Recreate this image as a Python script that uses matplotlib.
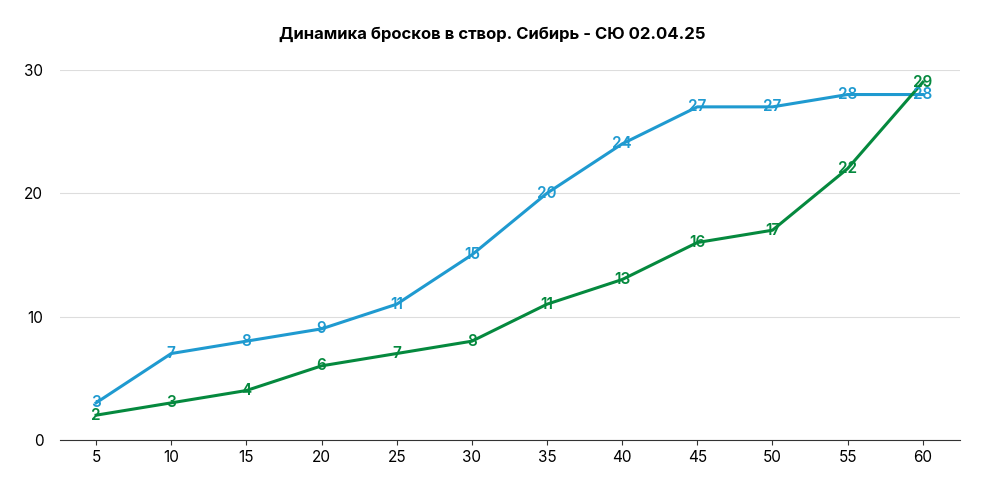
import matplotlib
matplotlib.use("Agg")
import matplotlib.pyplot as plt

minutes = [5, 10, 15, 20, 25, 30, 35, 40, 45, 50, 55, 60]
sibir = [3, 7, 8, 9, 11, 15, 20, 24, 27, 27, 28, 28]
syu = [2, 3, 4, 6, 7, 8, 11, 13, 16, 17, 22, 29]
title = "Динамика бросков в створ. Сибирь - СЮ 02.04.25"

fig = plt.figure(figsize=(9.84, 4.92), dpi=100)
ax = fig.add_axes([0.061, 0.106, 0.915, 0.752])
blue = "#1f9ad0"
green = "#05893e"
ax.plot(minutes, sibir, color=blue, lw=2.2)
ax.plot(minutes, syu, color=green, lw=2.2)
for x, y in zip(minutes, sibir):
    ax.text(x, y, str(y), color=blue, ha="center", va="center", fontsize=11, fontweight="semibold", family="Inter")
for x, y in zip(minutes, syu):
    ax.text(x, y, str(y), color=green, ha="center", va="center", fontsize=11, fontweight="semibold", family="Inter")
ax.set_xlim(2.6, 62.5)
ax.set_ylim(0, 30)
ax.set_xticks(minutes)
ax.set_yticks([0, 10, 20, 30])
ax.grid(axis="y", color="#dddddd", lw=0.8)
ax.set_axisbelow(True)
for s in ["top", "right", "left"]:
    ax.spines[s].set_visible(False)
ax.spines["bottom"].set_color("#333333")
ax.tick_params(axis="y", length=0, labelsize=11, pad=12)
ax.tick_params(axis="x", labelsize=11, color="#333333")
for lbl in ax.get_xticklabels() + ax.get_yticklabels():
    lbl.set_family("Inter")
fig.text(0.5, 0.93, title, ha="center", va="center", fontsize=12, fontweight="bold", family="Inter")
fig.savefig("out.png", dpi=100, facecolor="white")
